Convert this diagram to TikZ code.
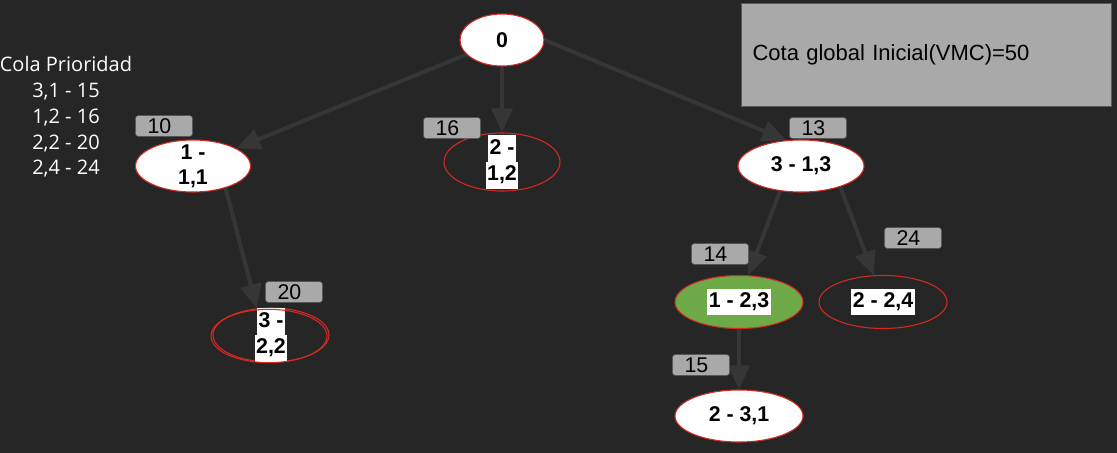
\documentclass[tikz,border=0pt]{standalone}
\usepackage{fontspec}
\setmainfont{Liberation Sans}
\newfontfamily\colafont{Open Sans}
\usetikzlibrary{shapes.geometric,arrows.meta}
\definecolor{fondo}{HTML}{262626}
\definecolor{linea}{HTML}{363636}
\definecolor{rojo}{HTML}{D42A22}
\definecolor{verde}{HTML}{6FAA48}
\definecolor{gris}{HTML}{A9A9A9}
\definecolor{grisborde}{HTML}{5A5A5A}
\setlength{\fboxsep}{0pt}
\newcommand{\fondoblanco}[1]{\colorbox{white}{\kern1pt\strut#1\kern1pt}}
\tikzset{
  estado/.style={ellipse,draw=rojo,line width=0.8pt,inner sep=0pt,
    minimum width=#1,minimum height=39pt,
    font=\fontsize{16}{20}\selectfont\bfseries,align=center},
  estado/.default=94.5pt,
  textoestado/.style={inner sep=0pt,align=center,
    font=\fontsize{16}{20}\selectfont\bfseries},
  peso/.style={rectangle,rounded corners=2pt,fill=gris,draw=grisborde,
    line width=0.4pt,inner xsep=9pt,inner ysep=0pt,text width=24.75pt,
    align=left,minimum height=15.5pt,text=black,
    font=\fontsize{16}{16}\selectfont},
  arista/.style={draw=linea,line width=3pt,
    -{Triangle[length=18pt,width=15.75pt]}},
}
\begin{document}
\begin{tikzpicture}[x=0.75pt,y=-0.75pt]
\fill[fondo](0,0)rectangle(1117,453);
\useasboundingbox(0,0)rectangle(1117,453);
%cota global
\node[rectangle,fill=gris,draw=grisborde,line width=0.8pt,anchor=north west,
  minimum width=277.5pt,minimum height=77.25pt,inner xsep=8.25pt,
  text width=261pt,align=left,font=\fontsize{16.5}{20}\selectfont]
  (cota) at (741,3){Cota global Inicial(VMC)=50};
%cola de prioridad
\node[text=white,align=center,inner sep=0pt,
  font=\colafont\fontsize{15}{19.3}\selectfont]
  (cola) at (66,117){Cola Prioridad\\3,1 - 15\\1,2 - 16\\2,2 - 20\\2,4 - 24};
%nodos del arbol
\node[estado=63pt,fill=white] (n0) at (502,40){0};
\node[estado=86.25pt,fill=white,
  label={[textoestado,font=\fontsize{16}{19}\selectfont\bfseries]center:1 -\\1,1}] (n11) at (193,166){};
\node[estado=87pt,minimum height=43.5pt,
  label={[textoestado]center:\fondoblanco{2 -}\\\fondoblanco{1,2}}] (n12) at (502,162){};
\node[estado,fill=white] (n13) at (801,166){3 - 1,3};
\node[estado=87pt,minimum height=40.5pt,
  label={[textoestado]center:\fondoblanco{3 -}\\\fondoblanco{2,2}}] (n22) at (271,335){};
\draw[rojo,line width=0.8pt]([shift={(-2,1)}]n22.center) ellipse[x radius=43.5pt,y radius=20pt];
\node[estado=96pt,minimum height=39.75pt,fill=verde] (n23) at (739,302){\fondoblanco{1 - 2,3}};
\node[estado=96pt,minimum height=39.75pt] (n24) at (883,302){\fondoblanco{2 - 2,4}};
\node[estado=96pt,fill=white] (n31) at (739,416){2 - 3,1};
%aristas
\draw[arista](n0)--(n11);
\draw[arista](n0.south)--(n12.north);
\draw[arista](n0.east)--(n13.120);
\draw[arista](n11.-34)--(n22.118);
\draw[arista](n13.-130)--(n23.71);
\draw[arista](n13.-28)--(n24.109);
\draw[arista](n23.south)--(n31.north);
%pesos
\node[peso] (p10) at (164,126){10};
\node[peso] (p16) at (452,128){16};
\node[peso] (p13) at (818,128){13};
\node[peso] (p14) at (720,254){14};
\node[peso] (p24) at (913,238){24};
\node[peso] (p20) at (294,292){20};
\node[peso] (p15) at (701,365){15};
\end{tikzpicture}
\end{document}
